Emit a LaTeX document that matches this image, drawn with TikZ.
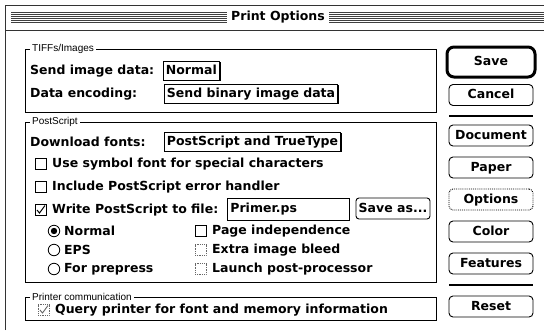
\documentclass[tikz,border=0pt]{standalone}
\usepackage{fontspec}
\setmainfont{DejaVu Sans}
\newfontfamily\chic{DejaVu Sans}
\newfontfamily\gen{Liberation Sans}
\usetikzlibrary{calc,shadows}
\newcommand\chicf{\chic\bfseries\fontsize{12.5}{14}\selectfont}
\newcommand\genf{\gen\fontsize{10}{11}\selectfont}
\begin{document}
\begin{tikzpicture}[x=1pt,y=-1pt,
  txt/.style={font=\chicf, inner sep=0pt, anchor=west},
  lbl/.style={font=\genf, fill=white, inner xsep=2pt, inner ysep=0pt, anchor=west},
  grp/.style={draw=black, line width=0.8pt},
  popup/.style={draw, line width=0.8pt, fill=white, font=\chicf, anchor=west, inner xsep=2.5pt, inner ysep=0pt, minimum height=19pt, text height=9.5pt, text depth=2.5pt,
     drop shadow={fill=black, opacity=1, shadow xshift=1.2pt, shadow yshift=-1.2pt}},
  field/.style={draw, line width=0.8pt, font=\chicf, anchor=west, inner xsep=3pt, inner ysep=0pt, minimum height=22pt, text height=9.5pt, text depth=2.5pt, align=left},
  btn/.style={draw, line width=0.9pt, rounded corners=4pt, font=\chicf, minimum width=84pt, minimum height=21pt, inner sep=0pt, text height=9.5pt, text depth=2.5pt},
  chk/.style={draw, line width=0.8pt, minimum size=11pt, inner sep=0pt},
  dchk/.style={chk, draw=black!60, densely dotted},
  radio/.style={draw, line width=0.8pt, circle, minimum size=11.5pt, inner sep=0pt},
  rule/.style={line width=2pt}]
\useasboundingbox (0,0) rectangle (544,330);
\fill[white] (0,0) rectangle (544,330);
% window frame
\draw[line width=1pt, black!80] (5.5,330) -- (5.5,5.5) -- (544,5.5);
\draw[line width=1pt, black!80] (5.5,30.5) -- (544,30.5);
\foreach \yy in {12.5,14.5,16.5,18.5,20.5,22.5}
  \draw[line width=1pt, black!75] (11,\yy) -- (544,\yy);
\node[font=\chicf, fill=white, inner xsep=4pt, inner ysep=3pt] (title) at (278,17.5) {Print Options};

% TIFFs / Images group
\draw[grp] (25,49) rectangle (436,112);
\node[lbl] (glab1) at (30,49) {TIFFs/Images};
\node[txt] (sid) at (30,71) {Send image data:};
\node[popup] (normal) at (163,70.5) {Normal};
\node[txt] (denc) at (30,94) {Data encoding:};
\node[popup] (binary) at (164,93.5) {Send binary image data};

% PostScript group
\draw[grp] (25,122) rectangle (436,282);
\node[lbl] (glab2) at (30,122) {PostScript};
\node[txt] (dlf) at (30,142) {Download fonts:};
\node[popup] (dlbox) at (164,141.5) {PostScript and TrueType};

\node[chk] (c1) at (40.5,164) {};
\node[txt] (t1) at (52,164) {Use symbol font for special characters};
\node[chk] (c2) at (40.5,187) {};
\node[txt] (t2) at (52,187) {Include PostScript error handler};
\node[chk] (c3) at (40.5,210) {};
\draw[line width=1pt] ($(c3.center)+(-3.5,0)$) -- ($(c3.center)+(-1,3)$) -- ($(c3.center)+(4.5,-4.5)$);
\node[txt] (t3) at (52,210) {Write PostScript to file:};
\node[field, text width=116pt] (fname) at (227,209) {Primer.ps};
\node[btn, minimum width=74pt, minimum height=21pt, rounded corners=3pt] (saveas) at (393,208.5) {Save as...};

\node[radio] (r1) at (54,231) {};
\fill (r1.center) circle (3.2pt);
\node[txt] (rt1) at (64,231) {Normal};
\node[radio] (r2) at (54,250) {};
\node[txt] (rt2) at (64,250) {EPS};
\node[radio] (r3) at (54,269) {};
\node[txt] (rt3) at (64,269) {For prepress};

\node[chk] (c4) at (200.5,231) {};
\node[txt] (t4) at (212,231) {Page independence};
\node[dchk] (c5) at (200.5,250) {};
\node[txt] (t5) at (212,250) {Extra image bleed};
\node[dchk] (c6) at (200.5,269) {};
\node[txt] (t6) at (212,269) {Launch post-processor};

% Printer communication group
\draw[grp] (25,297) rectangle (436,320);
\node[lbl] (glab3) at (30,297) {Printer communication};
\node[dchk] (c7) at (43.5,310) {};
\draw[line width=0.9pt, black!60] ($(c7.center)+(-3.5,0)$) -- ($(c7.center)+(-1,3)$) -- ($(c7.center)+(4.5,-4.5)$);
\node[txt] (t7) at (55,310) {Query printer for font and memory information};

% Buttons column
\node[btn, minimum width=88pt, minimum height=30pt, line width=3pt, rounded corners=7pt] (save) at (491,62) {Save};
\node[btn] (cancel) at (491,95) {Cancel};
\coordinate (s1a) at (449,116);
\coordinate (s1b) at (533,116);
\draw[rule] (s1a) -- (s1b);
\node[btn] (document) at (491,135.5) {Document};
\node[btn] (paper) at (491,167.5) {Paper};
\node[btn, densely dotted] (options) at (491,199.5) {Options};
\node[btn] (color) at (491,231.5) {Color};
\node[btn] (features) at (491,263.5) {Features};
\coordinate (s2a) at (449,285);
\coordinate (s2b) at (533,285);
\draw[rule] (s2a) -- (s2b);
\node[btn] (reset) at (491,306.5) {Reset};
\end{tikzpicture}
\end{document}
